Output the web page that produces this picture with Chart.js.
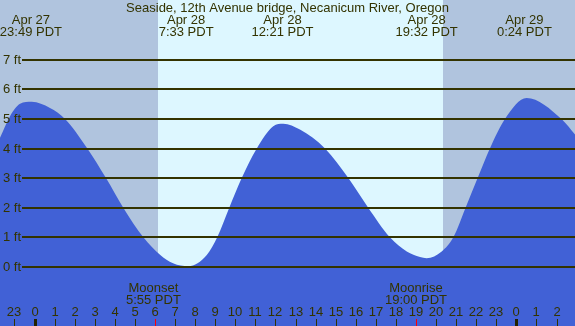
<!DOCTYPE html>
<html>
<head>
<meta charset="utf-8">
<script src="https://cdn.jsdelivr.net/npm/chart.js@4"></script>
<style>
  html, body { margin: 0; padding: 0; background: #b0c4de; }
  #tide { display: block; }
</style>
</head>
<body>
<canvas id="tide" width="575" height="326"></canvas>
<script>
// tide curve (hours from Apr 28 0:00, feet)
const tideHours = [-1.72, -1.22, -0.72, -0.14, 0.77, 1.52, 2.63, 3.56, 4.42, 5.42, 6.25, 6.90, 7.66, 8.58, 9.10, 9.70, 10.32, 11.07, 11.89, 12.39, 13.22, 14.47, 15.63, 16.62, 17.70, 18.54, 19.20, 19.53, 20.28, 20.86, 21.47, 22.07, 22.68, 23.43, 24.51, 26.25, 26.92];
const tideFeet  = [4.36, 5.09, 5.51, 5.58, 5.37, 5.00, 4.00, 3.00, 2.00, 1.00, 0.41, 0.12, 0.02, 0.40, 1.00, 2.00, 3.00, 4.00, 4.75, 4.84, 4.64, 4.00, 3.00, 2.00, 1.00, 0.52, 0.33, 0.29, 0.52, 1.00, 2.00, 3.00, 4.00, 5.00, 5.71, 5.00, 4.47];

// high / low tide labels at top
const extremeHours = [-0.18, 7.55, 12.35, 19.53, 24.40];
const extremeDates = ['Apr 27', 'Apr 28', 'Apr 28', 'Apr 28', 'Apr 29'];
const extremeTimes = ['23:49 PDT', '7:33 PDT', '12:21 PDT', '19:32 PDT', '0:24 PDT'];

// hour ticks along the bottom
const tickHours  = [-1, 0, 1, 2, 3, 4, 5, 6, 7, 8, 9, 10, 11, 12, 13, 14, 15, 16, 17, 18, 19, 20, 21, 22, 23, 24, 25, 26];
const tickLabels = ['23', '0', '1', '2', '3', '4', '5', '6', '7', '8', '9', '10', '11', '12', '13', '14', '15', '16', '17', '18', '19', '20', '21', '22', '23', '0', '1', '2'];

// moon events
const moonHours = [5.92, 19.0];
const moonNames = ['Moonset', 'Moonrise'];
const moonTimes = ['5:55 PDT', '19:00 PDT'];

// daylight
const sunriseHour = 6.15;
const sunsetHour = 20.33;

const feetLines = [0, 1, 2, 3, 4, 5, 6, 7];
const titleText = 'Seaside, 12th Avenue bridge, Necanicum River, Oregon';

const ink = '#333300';
const font = '13px "Liberation Sans", Arial, sans-serif';

const backdrop = {
  id: 'backdrop',
  beforeDatasetsDraw(chart) {
    const ctx = chart.ctx;
    const x = chart.scales.x;
    ctx.save();
    ctx.fillStyle = '#b0c4de';
    ctx.fillRect(0, 0, chart.width, chart.height);
    const x0 = x.getPixelForValue(sunriseHour);
    const x1 = x.getPixelForValue(sunsetHour);
    ctx.fillStyle = '#ddf7ff';
    ctx.fillRect(Math.round(x0), 0, Math.round(x1) - Math.round(x0), chart.height);
    ctx.restore();
  }
};

const overlay = {
  id: 'overlay',
  afterDatasetsDraw(chart) {
    const ctx = chart.ctx;
    const x = chart.scales.x;
    const y = chart.scales.y;
    ctx.save();
    ctx.font = font;
    ctx.fillStyle = ink;

    // feet lines
    feetLines.forEach(f => {
      const py = Math.round(y.getPixelForValue(f));
      ctx.strokeStyle = ink;
      ctx.lineWidth = 2;
      ctx.beginPath();
      ctx.moveTo(22, py);
      ctx.lineTo(chart.width, py);
      ctx.stroke();
      ctx.textAlign = 'left';
      ctx.textBaseline = 'middle';
      ctx.fillText(f + ' ft', 3, py);
    });

    // title + tide times
    ctx.textAlign = 'center';
    ctx.textBaseline = 'alphabetic';
    ctx.fillText(titleText, chart.width / 2, 12);
    extremeHours.forEach((h, i) => {
      const px = x.getPixelForValue(h);
      ctx.fillText(extremeDates[i], px, 24);
      ctx.fillText(extremeTimes[i], px, 36);
    });

    // moon events
    moonHours.forEach((h, i) => {
      const px = x.getPixelForValue(h);
      ctx.fillText(moonNames[i], px, 292);
      ctx.fillText(moonTimes[i], px, 304);
    });

    // hour ticks
    tickHours.forEach((h, i) => {
      const px = Math.round(x.getPixelForValue(h));
      ctx.fillStyle = ink;
      ctx.fillText(tickLabels[i], px, 316);
      if (moonHours.some(m => Math.round(m) === h)) return;
      if (tickLabels[i] === '0') {
        ctx.fillStyle = '#222200';
        ctx.fillRect(px - 1, 319, 3, 7);
      } else {
        ctx.fillRect(px, 319, 1, 7);
      }
    });
    ctx.fillStyle = '#ff0000';
    moonHours.forEach(h => {
      const px = Math.round(x.getPixelForValue(Math.round(h)));
      ctx.fillRect(px, 319, 1, 7);
    });
    ctx.restore();
  }
};

new Chart(document.getElementById('tide'), {
  type: 'line',
  data: {
    datasets: [{
      data: tideHours.map((h, i) => ({ x: h, y: tideFeet[i] })),
      fill: 'start',
      backgroundColor: '#4161d6',
      borderWidth: 0,
      pointRadius: 0,
      cubicInterpolationMode: 'monotone'
    }]
  },
  options: {
    responsive: false,
    animation: false,
    devicePixelRatio: 1,
    layout: { padding: 0 },
    plugins: { legend: { display: false }, tooltip: { enabled: false } },
    scales: {
      x: { type: 'linear', min: -1.72, max: 26.92, display: false },
      y: { min: -2.0, max: 9.02, display: false }
    }
  },
  plugins: [backdrop, overlay]
});
</script>
</body>
</html>
